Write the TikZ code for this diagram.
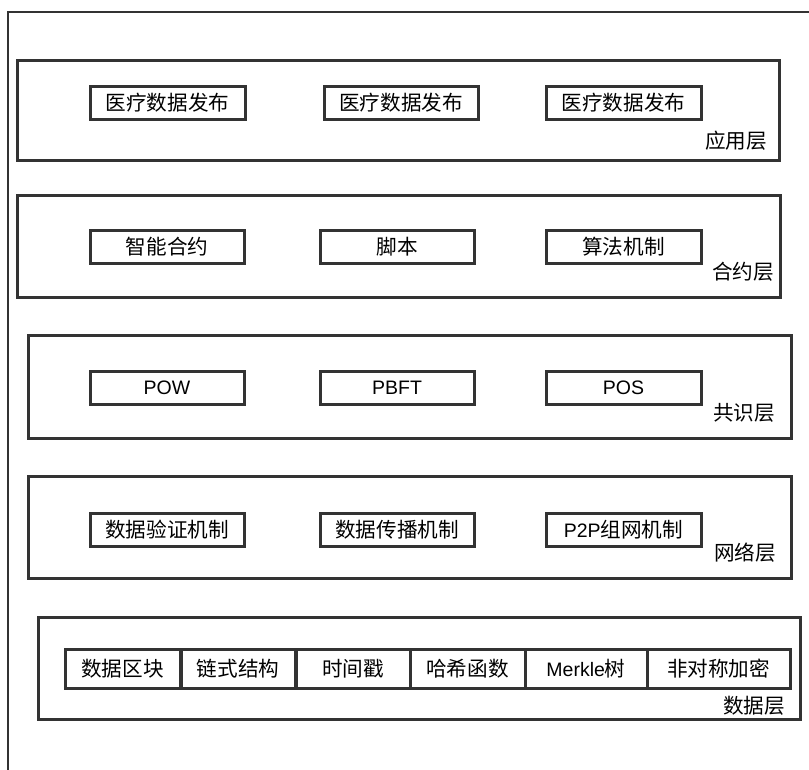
\documentclass[tikz,border=0pt]{standalone}
\usepackage{fontspec}
\setmainfont{Liberation Sans}
\newfontfamily\cjk{Noto Sans CJK SC}
\definecolor{ln}{HTML}{333333}
\begin{document}
\begin{tikzpicture}[x=1pt,y=-1pt,
  layer/.style={draw=ln,line width=3pt,minimum height=#1,inner sep=0pt,anchor=center},
  item/.style={draw=ln,line width=3pt,minimum height=33pt,inner sep=0pt,font=\cjk\fontsize{20.6}{22}\selectfont},
  cell/.style={draw=ln,line width=3pt,minimum height=39pt,inner sep=0pt,font=\cjk\fontsize{20.6}{22}\selectfont},
  lab/.style={anchor=east,inner sep=0pt,font=\cjk\fontsize{20.6}{22}\selectfont}]
\useasboundingbox (0,0) rectangle (809,769);
\fill[white] (0,0) rectangle (809,769);
\coordinate (ob) at (8,772);
\coordinate (oc) at (8,12);
\coordinate (or) at (812,12);
\draw[ln,line width=2.8pt] (ob) -- (oc) -- (or);
% layers
\node[layer=100pt,minimum width=762pt] (L1) at (398,110) {};
\node[layer=102pt,minimum width=763pt] (L2) at (398.5,246) {};
\node[layer=103pt,minimum width=763pt] (L3) at (409.5,386.5) {};
\node[layer=102pt,minimum width=763pt] (L4) at (409.5,527) {};
\node[layer=102pt,minimum width=762pt] (L5) at (419,668) {};
% row 1
\node[item,minimum width=155pt] (a1) at (167.5,102.5) {医疗数据发布};
\node[item,minimum width=154pt] (a2) at (401,102.5) {医疗数据发布};
\node[item,minimum width=155pt] (a3) at (623.5,102.5) {医疗数据发布};
\node[lab] (l1) at (767,141) {应用层};
% row 2
\node[item,minimum width=154pt] (b1) at (167,247) {智能合约};
\node[item,minimum width=154pt] (b2) at (397,247) {脚本};
\node[item,minimum width=155pt] (b3) at (623.5,247) {算法机制};
\node[lab] (l2) at (774,272) {合约层};
% row 3
\node[item,minimum width=154pt,font=\fontsize{19.5}{22}\selectfont] (c1) at (167,387.5) {POW};
\node[item,minimum width=154pt,font=\fontsize{19.5}{22}\selectfont] (c2) at (397,387.5) {PBFT};
\node[item,minimum width=155pt,font=\fontsize{19.5}{22}\selectfont] (c3) at (623.5,387.5) {POS};
\node[lab] (l3) at (775,413) {共识层};
% row 4
\node[item,minimum width=154pt] (d1) at (167,529.5) {数据验证机制};
\node[item,minimum width=154pt] (d2) at (397,529.5) {数据传播机制};
\node[item,minimum width=155pt] (d3) at (623.5,529.5) {{\fontspec{Liberation Sans}\fontsize{19.5}{22}\selectfont P2P}组网机制};
\node[lab] (l4) at (776,553) {网络层};
% row 5
\node[cell,minimum width=115pt] (e1) at (122.5,668.5) {数据区块};
\node[cell,minimum width=114pt] (e2) at (238,668.5) {链式结构};
\node[cell,minimum width=114pt] (e3) at (353,668.5) {时间戳};
\node[cell,minimum width=115pt] (e4) at (467.5,668.5) {哈希函数};
\node[cell,minimum width=122pt] (e5) at (586,668.5) {{\fontspec{Liberation Sans}\fontsize{19.5}{22}\selectfont Merkle}树};
\node[cell,minimum width=143pt] (e6) at (718.5,668.5) {非对称加密};
\node[lab] (l5) at (785,706) {数据层};
\end{tikzpicture}
\end{document}
